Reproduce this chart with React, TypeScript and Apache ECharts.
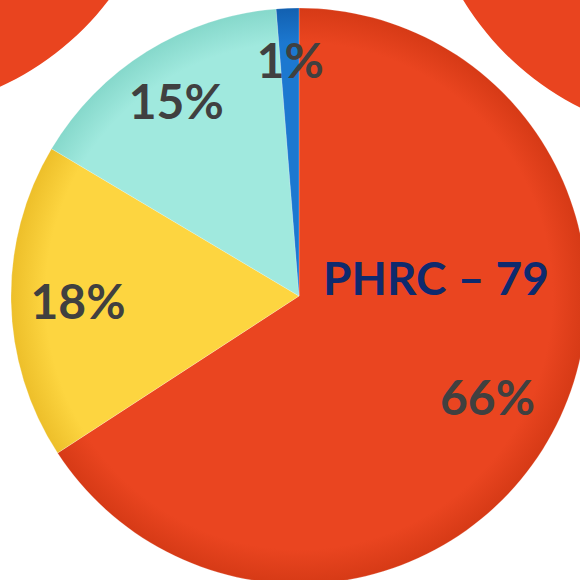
import React, { useEffect, useRef } from "react";
import * as echarts from "echarts";

const categories = ["A", "B", "C", "D"];
const values = [52, 14, 12, 1];
const colors = ["#EA4520", "#FDD540", "#A0E9DE", "#1C78D0"];
const edgeColors = ["#D63A16", "#EDBF2A", "#86D8CB", "#1260B0"];
const titleText = "PHRC – 79";

const CX = 299;
const CY = 296;
const R = 288;

export default function App() {
  const ref = useRef<HTMLDivElement>(null);
  useEffect(() => {
    document.body.style.margin = "0";
    const chart = echarts.init(ref.current!, null, { renderer: "svg" });
    const grad = (i: number) => ({
      type: "radial",
      x: CX,
      y: CY,
      r: R,
      global: true,
      colorStops: [
        { offset: 0, color: colors[i] },
        { offset: 0.88, color: colors[i] },
        { offset: 1, color: edgeColors[i] },
      ],
    });
    const data = categories.map((c, i) => ({
      name: c,
      value: values[i],
      itemStyle: { color: grad(i) },
    }));
    const labelOffsets = [[-4, -4], [-2, 0], [-7, -10], [0, -18]];
    const labelData = categories.map((c, i) => ({
      name: c,
      value: values[i],
      label: { offset: labelOffsets[i] },
    }));
    const sidePie = (center: number[]) => ({
      type: "pie",
      center,
      radius: R,
      silent: true,
      label: { show: false },
      labelLine: { show: false },
      data: [{ name: "side", value: 1, itemStyle: { color: "#E9441F" } }],
    });
    chart.setOption({
      animation: false,
      series: [
        sidePie([-120, -175]),
        sidePie([709, -150]),
        {
          type: "pie",
          center: [CX, CY],
          radius: R,
          startAngle: 90,
          clockwise: true,
          silent: true,
          label: { show: false },
          labelLine: { show: false },
          itemStyle: { borderColor: "rgba(255,255,255,0.35)", borderWidth: 0.6 },
          data,
        },
        {
          type: "pie",
          center: [CX, CY],
          radius: [R / 2, R],
          startAngle: 90,
          clockwise: true,
          silent: true,
          percentPrecision: 0,
          itemStyle: { color: "rgba(0,0,0,0)" },
          label: {
            show: true,
            position: "inside",
            formatter: "{d}%",
            color: "#404040",
            fontFamily: "Lato",
            fontWeight: "bold",
            fontSize: 48,
          },
          labelLine: { show: false },
          data: labelData,
        },
      ],
      graphic: [
        {
          type: "text",
          left: 323,
          top: 254,
          z: 100,
          style: {
            text: titleText,
            fill: "#0E2A6E",
            font: "bold 46px Lato",
          },
        },
      ],
    });
    return () => chart.dispose();
  }, []);
  return <div ref={ref} style={{ position: "absolute", left: 0, top: 0, width: 580, height: 580 }} />;
}
